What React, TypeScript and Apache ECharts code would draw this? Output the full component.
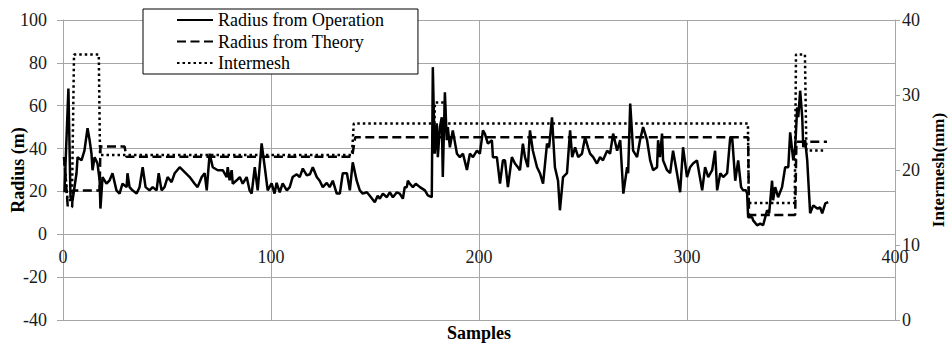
import React, { useEffect, useRef } from "react";
import * as echarts from "echarts";

// Radius from Operation (sample, radius m)
const opSamples = [0.7, 2.6, 3.6, 4.6, 6.5, 7.0, 8.9, 10.3, 11.8, 12.8, 13.7, 14.2, 15.2, 16.6, 17.6, 18.0, 19.0, 20.9, 22.4, 23.8, 25.7, 27.2, 28.6, 30.6, 31.0, 32.0, 33.4, 35.4, 36.8, 38.3, 39.7, 41.6, 43.1, 45.0, 46.0, 47.4, 48.8, 50.3, 52.2, 53.7, 56.1, 58.5, 60.9, 63.3, 64.7, 66.7, 68.1, 69.1, 70.5, 72.0, 74.4, 76.8, 78.7, 79.2, 80.1, 81.1, 81.6, 83.5, 85.0, 86.4, 88.3, 89.7, 90.7, 92.2, 93.6, 95.5, 97.0, 98.4, 100.3, 101.7, 102.7, 104.2, 105.6, 107.6, 109.0, 110.4, 112.4, 113.8, 115.3, 117.2, 118.7, 120.1, 122.0, 123.4, 124.9, 126.8, 128.2, 129.7, 131.6, 133.1, 134.5, 136.5, 137.9, 139.3, 141.2, 142.7, 144.1, 146.1, 147.5, 149.9, 151.3, 152.3, 153.8, 155.7, 157.1, 158.6, 160.5, 161.9, 163.4, 164.3, 165.3, 165.8, 166.7, 168.2, 169.6, 171.6, 174.0, 175.4, 177.3, 177.8, 178.7, 179.7, 180.2, 181.2, 182.1, 182.6, 183.6, 184.5, 185.0, 186.0, 187.4, 189.4, 190.8, 192.3, 194.2, 195.6, 197.1, 199.0, 200.4, 201.9, 202.8, 204.3, 206.2, 206.7, 208.6, 210.1, 211.5, 212.5, 213.9, 215.8, 217.3, 218.7, 219.7, 221.1, 222.1, 223.5, 224.5, 225.9, 227.9, 229.3, 230.8, 232.7, 233.7, 235.1, 236.5, 238.0, 238.9, 240.4, 242.3, 243.8, 244.8, 246.2, 247.7, 249.5, 251.0, 252.4, 253.4, 254.9, 256.7, 258.2, 259.6, 261.6, 263.0, 264.5, 266.4, 267.9, 269.4, 271.2, 271.7, 272.7, 274.1, 276.0, 277.4, 278.9, 280.8, 282.3, 283.7, 285.6, 286.1, 287.0, 288.0, 288.5, 290.4, 291.9, 293.3, 295.2, 296.7, 298.1, 300.0, 301.5, 302.9, 304.8, 307.3, 308.7, 310.2, 312.1, 313.5, 314.5, 316.0, 317.4, 319.3, 320.8, 321.7, 323.2, 324.6, 326.0, 327.0, 328.4, 328.9, 329.4, 331.3, 331.8, 333.7, 335.2, 336.6, 338.5, 339.5, 340.9, 341.4, 342.4, 343.8, 345.7, 347.2, 348.7, 349.6, 351.1, 352.0, 353.0, 353.5, 354.4, 355.4, 355.9, 356.8, 357.8, 359.2, 360.7, 362.6, 364.0, 365.0, 366.5, 367.9];
const opRadius = [19.6, 68, 17.3, 15.9, 28.5, 36, 34.5, 39, 49.5, 43.9, 37.6, 29.9, 36, 33, 25.2, 12, 26.7, 23.6, 25.2, 28.5, 20.5, 19, 23.6, 22, 28.5, 22, 20.5, 19, 22, 31.3, 22, 20.5, 22, 20.5, 28.5, 20.5, 22, 26.7, 24.3, 28.5, 31.3, 29, 26.7, 23.6, 22, 26.7, 28.5, 20.5, 37.6, 31.3, 29.9, 29.9, 26.7, 31.3, 25.2, 29.9, 23.6, 25.2, 26.7, 23.6, 26.7, 20.5, 19, 31.3, 20.5, 42.4, 31.3, 20.5, 23.8, 19, 24, 19.6, 23.8, 20.5, 22, 26.7, 28, 26.7, 30.7, 27.5, 28, 31.3, 26.7, 25, 22, 24, 22, 25, 19, 19, 28.5, 28.5, 20.5, 33.6, 25, 20.5, 19, 19.6, 18, 15, 18, 16.6, 19, 17.3, 19.6, 17.3, 19.6, 19, 16.6, 22, 22, 25, 23.6, 22, 23.6, 22, 20.5, 18.2, 17.3, 78, 37.6, 51.8, 36, 50, 54.6, 26.7, 66.3, 43.9, 50, 40.6, 48.5, 37.6, 36, 37.6, 30, 37.6, 36, 39, 37.6, 48.5, 47, 42.3, 43.9, 36, 36, 23.6, 34.5, 34.5, 22, 36, 33, 31.3, 29.9, 42.3, 36, 31.3, 48.5, 39, 31.3, 28.5, 23.6, 42.3, 40.6, 54.6, 31.3, 25, 11.2, 26.7, 28.5, 48.5, 36, 40.6, 36, 37.6, 45.3, 40.6, 37.6, 36, 33, 36, 34.5, 39, 37.6, 47, 39, 43.9, 19, 31.3, 28.5, 61, 39, 36, 43.9, 50, 43.9, 34.5, 29.9, 31.3, 43.9, 36, 47, 34.5, 29.9, 28.5, 39, 28.5, 19.6, 40.6, 26.7, 31.3, 33, 34.5, 20.5, 31.3, 26.7, 29.9, 39, 20.5, 28.5, 26.7, 28.5, 45.3, 45.3, 25, 34.5, 22, 20.5, 20.5, 19, 8, 8, 6.5, 4.2, 5, 4.2, 11.2, 9.8, 25, 15.9, 22, 17.3, 22, 31.3, 31.3, 47.6, 34.5, 40.6, 59.3, 54.6, 67, 54.6, 40.6, 43.9, 34.5, 9.8, 13.5, 12, 12.6, 9.8, 14.4, 15];

// Radius from Theory (sample, radius m)
const thSamples = [0.5, 2.3, 4.4, 4.7, 17.6, 18.0, 29.6, 30.5, 139.0, 140.5, 329.4, 329.8, 352.0, 352.6, 367.3];
const thRadius = [36, 12.7, 12.7, 20.4, 20.4, 41, 41, 36.2, 36.2, 45.3, 45.3, 9, 9, 43.2, 43.2];

// Intermesh (sample, mm)
const imSamples = [0.5, 2.2, 4.3, 5.3, 17.2, 17.8, 138.9, 139.8, 178.6, 178.8, 183.6, 183.8, 329.3, 329.7, 351.8, 352.4, 356.7, 357.4, 365.8];
const imValues = [21.7, 16, 16, 35.4, 35.4, 22, 22, 26.2, 26.2, 29, 29, 26.2, 26.2, 15.6, 15.6, 35.4, 35.4, 22.6, 22.6];

const seriesNames = ["Radius from Operation", "Radius from Theory", "Intermesh"];

const FONT = "Liberation Serif";
const GRID = "#a6a6a6";

export default function App() {
  const ref = useRef<HTMLDivElement>(null);
  useEffect(() => {
    if (!ref.current) return;
    const chart = echarts.init(ref.current, undefined, { renderer: "svg" });
    const pairs = (xs: number[], ys: number[]) => xs.map((x, i) => [x, ys[i]]);
    chart.setOption({
      animation: false,
      backgroundColor: "#fff",
      textStyle: { fontFamily: FONT },
      grid: {
        left: 63,
        right: 55,
        top: 20,
        bottom: 24,
        containLabel: false,
        outerBoundsMode: "none",
      },
      legend: {
        data: seriesNames,
        orient: "vertical",
        left: 143,
        top: 9,
        itemWidth: 36,
        itemHeight: 14,
        itemGap: 3.5,
        padding: [2, 34, 2, 33],
        backgroundColor: "#fff",
        borderColor: "#000",
        borderWidth: 1,
        itemStyle: { opacity: 0 },
        textStyle: { fontFamily: FONT, fontSize: 18, color: "#000" },
      },
      xAxis: {
        type: "value",
        min: 0,
        max: 400,
        interval: 100,
        axisLine: { show: true, onZero: false, lineStyle: { color: GRID } },
        axisTick: { show: false },
        axisLabel: {
          margin: -72,
          fontFamily: FONT,
          fontSize: 18,
          color: "#1a1a1a",
          showMinLabel: true,
          showMaxLabel: true,
        },
        splitLine: { show: true, lineStyle: { color: GRID, width: 1 } },
      },
      yAxis: [
        {
          type: "value",
          min: -40,
          max: 100,
          interval: 20,
          name: "Radius (m)",
          nameLocation: "middle",
          nameRotate: 90,
          nameGap: 36,
          nameMoveOverlap: false,
          nameTextStyle: { fontFamily: FONT, fontSize: 18, fontWeight: "bold", color: "#000" },
          axisLine: { show: true, onZero: false, lineStyle: { color: GRID } },
          axisTick: { show: true, length: 6, lineStyle: { color: GRID } },
          axisLabel: { margin: 16, fontFamily: FONT, fontSize: 18, color: "#1a1a1a" },
          splitLine: { show: true, lineStyle: { color: GRID, width: 1 } },
        },
        {
          type: "value",
          position: "right",
          min: 0,
          max: 40,
          interval: 10,
          name: "Intermesh(mm)",
          nameLocation: "middle",
          nameRotate: 90,
          nameGap: 35,
          nameMoveOverlap: false,
          nameTextStyle: { fontFamily: FONT, fontSize: 17, fontWeight: "bold", color: "#000" },
          axisLine: { show: true, onZero: false, lineStyle: { color: GRID } },
          axisTick: { show: true, length: 5, lineStyle: { color: GRID } },
          axisLabel: { margin: 7, fontFamily: FONT, fontSize: 18, color: "#1a1a1a" },
          splitLine: { show: false },
        },
      ],
      graphic: [
        {
          type: "text",
          x: 479,
          y: 333,
          style: {
            text: "Samples",
            fontFamily: FONT,
            fontSize: 18,
            fontWeight: "bold",
            fill: "#000",
            textAlign: "center",
            textVerticalAlign: "middle",
          },
        },
      ],
      series: [
        {
          name: seriesNames[0],
          type: "line",
          yAxisIndex: 0,
          data: pairs(opSamples, opRadius),
          showSymbol: false,
          symbol: "none",
          lineStyle: { color: "#000", width: 2.5, type: "solid" },
          itemStyle: { color: "#000" },
          z: 4,
        },
        {
          name: seriesNames[1],
          type: "line",
          yAxisIndex: 0,
          data: pairs(thSamples, thRadius),
          showSymbol: false,
          symbol: "none",
          lineStyle: { color: "#000", width: 2.5, type: [9, 4.5] },
          itemStyle: { color: "#000" },
          z: 3,
        },
        {
          name: seriesNames[2],
          type: "line",
          yAxisIndex: 1,
          data: pairs(imSamples, imValues),
          showSymbol: false,
          symbol: "none",
          lineStyle: { color: "#000", width: 2.5, type: [2.5, 3] },
          itemStyle: { color: "#000" },
          z: 2,
        },
      ],
    });
    return () => chart.dispose();
  }, []);
  return (
    <div
      ref={ref}
      style={{ position: "absolute", left: 0, top: 0, width: 950, height: 344 }}
    />
  );
}
